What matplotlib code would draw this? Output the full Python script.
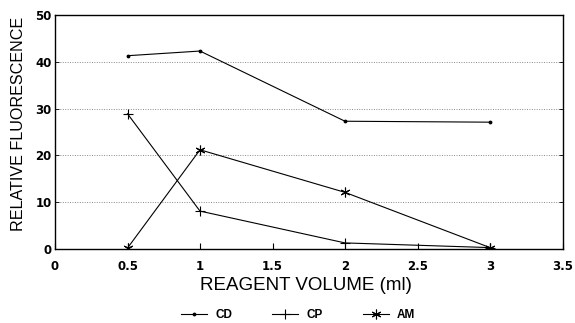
import matplotlib.pyplot as plt

plt.rcParams['font.family'] = ['Liberation Sans', 'DejaVu Sans']

# reagent volume (ml) and fluorescence readings per compound
volume = [0.5, 1, 2, 3]
cd = [41.3, 42.3, 27.3, 27.1]
cp = [28.9, 8.1, 1.3, 0.3]
am = [0.2, 21.2, 12.1, 0.3]

x_ticks = [0, 0.5, 1, 1.5, 2, 2.5, 3, 3.5]
x_labels = ['0', '0.5', '1', '1.5', '2', '2.5', '3', '3.5']
y_ticks = [0, 10, 20, 30, 40, 50]
grid_levels = [10, 20, 30, 40]

W, H = 575, 323
fig = plt.figure(figsize=(W / 100, H / 100), dpi=100)
ax = fig.add_axes([55 / W, 1 - 249 / H, (562.5 - 55) / W, (249 - 15) / H])

lw = 0.8
ax.plot(volume, cd, color='black', lw=lw, marker='.', ms=3.5, label='CD')
ax.plot(volume, cp, color='black', lw=lw, marker='+', ms=6.5, mew=0.8, label='CP')
ax.plot(volume, am, color='black', lw=lw, marker=(6, 2, 0), ms=7, mew=0.8, label='AM')

ax.set_xlim(0, 3.5)
ax.set_ylim(0, 50)
ax.set_xticks(x_ticks)
ax.set_xticklabels(x_labels)
ax.set_yticks(y_ticks)

for y in grid_levels:
    ax.axhline(y, color='#8a8a8a', lw=0.7, ls=(0, (1, 1.5)), zorder=0)

for s in ax.spines.values():
    s.set_color('black')
    s.set_linewidth(1.0)

ax.tick_params(axis='x', direction='in', length=4, width=0.8, pad=8)
ax.tick_params(axis='y', direction='in', length=3, width=0.6, pad=2.5, right=True)
for lab in ax.get_xticklabels() + ax.get_yticklabels():
    lab.set_family('DejaVu Sans')
    lab.set_fontweight('bold')
    lab.set_fontsize(8.5)

fig.text(306 / W, 1 - 285 / H, 'REAGENT VOLUME (ml)', fontsize=13.5,
         ha='center', va='center')
fig.text(19 / W, 1 - 123.5 / H, 'RELATIVE FLUORESCENCE', fontsize=11.6,
         rotation=90, ha='center', va='center')

leg = fig.legend(loc='center', bbox_to_anchor=(298 / W, 1 - 315 / H), ncol=3,
                 frameon=False, fontsize=8.5, numpoints=1, handlelength=2.2,
                 handletextpad=0.7, columnspacing=3.4)
for t in leg.get_texts():
    t.set_fontweight('bold')

fig.savefig('out.png', dpi=100)
